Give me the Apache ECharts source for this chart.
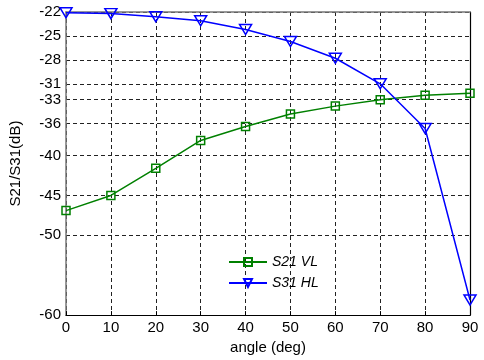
<!DOCTYPE html>
<html>
<head>
<meta charset="utf-8">
<script src="https://cdn.jsdelivr.net/npm/echarts@6/dist/echarts.min.js"></script>
<style>html,body{margin:0;padding:0;background:#fff}#c{width:484px;height:360px}</style>
</head>
<body>
<div id="c"></div>
<script>
var angles = [0, 10, 20, 30, 40, 50, 60, 70, 80, 90];
var s21VL = [-46.9, -45.0, -41.6, -38.1, -36.35, -34.8, -33.8, -33.0, -32.45, -32.2];
var s31HL = [-22.1, -22.2, -22.6, -23.1, -24.2, -25.7, -27.8, -31.0, -36.6, -58.1];
var yTicks = [-60, -50, -45, -40, -36, -33, -31, -28, -25, -22];
var xTicks = [0, 10, 20, 30, 40, 50, 60, 70, 80, 90];

var FONT = 'Liberation Sans, Arial, Helvetica, sans-serif';
var chart = echarts.init(document.getElementById('c'), null, {renderer: 'canvas'});

function pairs(xs, ys) { return xs.map(function (x, i) { return [x, ys[i]]; }); }

var gridDash = {show: true, lineStyle: {color: '#222', width: 1, type: [4, 3]}};

chart.setOption({
  animation: false,
  backgroundColor: '#fff',
  grid: {left: 65, right: 14, top: 12, bottom: 40, containLabel: false},
  legend: {
    left: 223, top: 250, orient: 'vertical',
    itemWidth: 38, itemHeight: 10, itemGap: 7,
    textStyle: {fontFamily: FONT, fontSize: 14, fontStyle: 'italic', color: '#000'},
    data: [{name: 'S21 VL'}, {name: 'S31 HL'}]
  },
  xAxis: [{
    type: 'value', min: 0, max: 90, interval: 10,
    name: 'angle (deg)', nameLocation: 'middle', nameGap: 22,
    nameTextStyle: {fontFamily: FONT, fontSize: 15, color: '#000'},
    axisLine: {show: true, onZero: false, lineStyle: {color: '#000', width: 1.2}},
    axisTick: {show: true, inside: true, length: 4, lineStyle: {color: '#000'}},
    axisLabel: {fontFamily: FONT, fontSize: 15, color: '#000', margin: 5,
      customValues: xTicks},
    splitLine: gridDash
  }, {
    type: 'value', min: 0, max: 90, interval: 10, position: 'top',
    axisLine: {show: true, onZero: false, lineStyle: {color: '#777', width: 1.5}},
    axisTick: {show: false}, axisLabel: {show: false}, splitLine: {show: false}
  }],
  yAxis: [{
    type: 'value', min: -60, max: -22,
    name: 'S21/S31(dB)', nameLocation: 'middle', nameGap: 43,
    nameTextStyle: {fontFamily: FONT, fontSize: 15, color: '#000'},
    axisLine: {show: true, onZero: false, lineStyle: {color: '#777', width: 1.5}},
    axisTick: {show: false, customValues: yTicks},
    axisLabel: {fontFamily: FONT, fontSize: 15, color: '#000', margin: 5,
      customValues: yTicks},
    splitLine: gridDash
  }, {
    type: 'value', min: -60, max: -22, position: 'right',
    axisLine: {show: true, onZero: false, lineStyle: {color: '#000', width: 1.2}},
    axisTick: {show: false}, axisLabel: {show: false}, splitLine: {show: false}
  }],
  series: [{
    name: 'S21 VL', type: 'line', xAxisIndex: 0, yAxisIndex: 0,
    data: pairs(angles, s21VL),
    symbol: 'rect', symbolSize: 8, showAllSymbol: true,
    lineStyle: {color: '#008000', width: 1.5},
    itemStyle: {color: 'rgba(255,255,255,0)', borderColor: '#008000', borderWidth: 1.5},
    z: 3
  }, {
    name: 'S31 HL', type: 'line', xAxisIndex: 0, yAxisIndex: 0,
    data: pairs(angles, s31HL),
    symbol: 'triangle', symbolRotate: 180, symbolSize: [12, 10], showAllSymbol: true,
    lineStyle: {color: '#0000ff', width: 1.5},
    itemStyle: {color: 'rgba(255,255,255,0)', borderColor: '#0000ff', borderWidth: 1.5},
    z: 4
  }]
});
</script>
</body>
</html>
